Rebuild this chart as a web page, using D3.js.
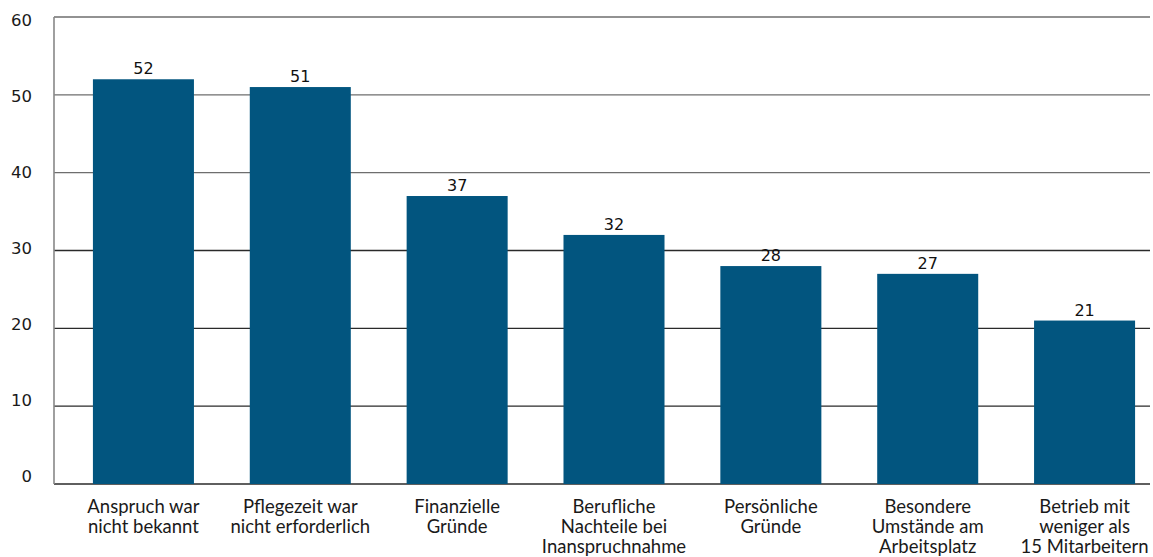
<!DOCTYPE html>
<html>
<head>
<meta charset="utf-8">
<script src="https://cdn.jsdelivr.net/npm/d3@7"></script>
<style>
  html, body { margin: 0; padding: 0; background: #fff; }
  svg { display: block; }
</style>
</head>
<body>
<svg id="chart" width="1153" height="557"></svg>
<script>
const categories = [
  ["Anspruch war", "nicht bekannt"],
  ["Pflegezeit war", "nicht erforderlich"],
  ["Finanzielle", "Gründe"],
  ["Berufliche", "Nachteile bei", "Inanspruchnahme"],
  ["Persönliche", "Gründe"],
  ["Besondere", "Umstände am", "Arbeitsplatz"],
  ["Betrieb mit", "weniger als", "15 Mitarbeitern"]
];
const values = [52, 51, 37, 32, 28, 27, 21];
const yTicks = [0, 10, 20, 30, 40, 50, 60];

const svg = d3.select("#chart");
const keys = categories.map(c => c.join(" "));

const x = d3.scaleBand().domain(keys).range([65, 1163]).paddingInner(0.356).paddingOuter(0.178);
const y = d3.scaleLinear().domain([0, 60]).range([484, 17]);
const yLab = d3.scaleLinear().domain([0, 60]).range([476.5, 20.5]);

// gridlines
svg.append("g").selectAll("line").data(yTicks).join("line")
  .attr("x1", 54).attr("x2", 1150)
  .attr("y1", d => y(d)).attr("y2", d => y(d))
  .attr("stroke", d => d >= 40 ? "#6e6e6e" : "#2a2a2a")
  .attr("stroke-width", 1.3);

// y axis line
svg.append("line").attr("x1", 54).attr("x2", 54).attr("y1", y(60)).attr("y2", y(0))
  .attr("stroke", "#888").attr("stroke-width", 1.6);

// tick labels
svg.append("g").selectAll("text").data(yTicks).join("text")
  .attr("x", 32).attr("y", d => yLab(d)).attr("dy", "0.36em")
  .attr("text-anchor", "end")
  .attr("font-family", "DejaVu Sans, sans-serif").attr("font-size", 16.5)
  .attr("fill", "#1a1a1a")
  .text(d => d);

// bars
svg.append("g").selectAll("rect").data(values).join("rect")
  .attr("x", (d, i) => x(keys[i]))
  .attr("width", x.bandwidth())
  .attr("y", d => y(d))
  .attr("height", d => y(0) - y(d))
  .attr("fill", "#02557f");

// value labels
svg.append("g").selectAll("text").data(values).join("text")
  .attr("x", (d, i) => x(keys[i]) + x.bandwidth() / 2)
  .attr("y", d => y(d) - 5)
  .attr("text-anchor", "middle")
  .attr("font-family", "DejaVu Sans, sans-serif").attr("font-size", 16)
  .attr("fill", "#111")
  .text(d => d);

// category labels
const cat = svg.append("g").selectAll("text").data(categories).join("text")
  .attr("x", (d, i) => x(keys[i]) + x.bandwidth() / 2)
  .attr("y", 512.7)
  .attr("text-anchor", "middle")
  .attr("font-family", "Lato, sans-serif").attr("font-size", 18.5)
  .attr("fill", "#1a1a1a");
cat.each(function(d, i) {
  const t = d3.select(this);
  const cx = x(keys[i]) + x.bandwidth() / 2;
  d.forEach((line, j) => {
    t.append("tspan").attr("x", cx).attr("dy", j === 0 ? 0 : 20).text(line);
  });
});
</script>
</body>
</html>
